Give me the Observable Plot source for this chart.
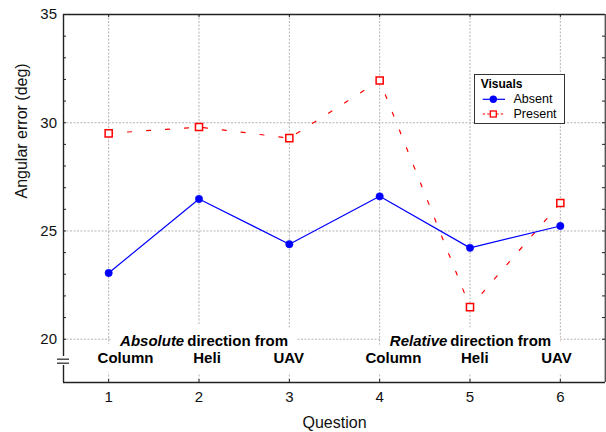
<!DOCTYPE html>
<html>
<head>
<meta charset="utf-8">
<script src="https://cdn.jsdelivr.net/npm/d3@7"></script>
<script src="https://cdn.jsdelivr.net/npm/@observablehq/plot@0.6"></script>
<style>
  body { margin: 0; background: #fff; font-family: "Liberation Sans", Arial, sans-serif; }
  #wrap { position: relative; width: 606px; height: 432px; }
  #legend { position: absolute; left: 474px; top: 74px; width: 91px; height: 50px; box-sizing: border-box;
            border: 1px solid #333; background: #fff; }
  #legend .t { position: absolute; white-space: nowrap; color: #000; }
  #legend svg { position: absolute; left: 0; top: 0; }
</style>
</head>
<body>
<div id="wrap"></div>
<script>
// ---- data ----
const questions = [1, 2, 3, 4, 5, 6];
const absent  = [23.06, 26.48, 24.39, 26.60, 24.22, 25.23];
const present = [29.51, 29.80, 29.29, 31.95, 21.48, 26.29];
const seriesNames = ["Absent", "Present"];
const legendTitle = "Visuals";
const xTicks = [1, 2, 3, 4, 5, 6];
const yTicks = [20, 25, 30, 35];
const yMinorTicks = d3.range(20, 36);
const xDomain = [0.5, 6.5];
const yDomain = [18, 35];
const groupLead = ["Absolute", "Relative"];
const groupRest = ["direction from", "direction from"];
const groupSplitX = [1.853, 4.766];
const sourceLabels = ["Column", "Heli", "UAV", "Column", "Heli", "UAV"];
const sourceLabelX = [1.186, 2.089, 2.994, 4.152, 5.053, 5.958];
const headerRowY = 19.894;
const sourceRowY = 19.109;
const breakMarksY = [19.077, 18.892];
const breakGapY = [18.785, 19.201];

// ---- tables built from arrays ----
const rows = questions.map((q, i) => ({q, absent: absent[i], present: present[i]}));
const headers = groupLead.map((lead, i) => ({lead, rest: groupRest[i], x: groupSplitX[i]}));
const sources = sourceLabels.map((label, i) => ({label, x: sourceLabelX[i]}));
const leftAxisSegments = [{y1: breakGapY[1], y2: yDomain[1]}, {y1: yDomain[0], y2: breakGapY[0]}];

const blue = "#0000ff", red = "#ff0000", ink = "#222";
const gridStyle = {stroke: "#b4b4b4", strokeWidth: 1, strokeDasharray: "2,1.5"};
const haloStyle = {fill: "white", stroke: "white", strokeWidth: 20, strokeLinejoin: "round", fontWeight: "bold", fontSize: 15, lineAnchor: "middle"};

const chart = Plot.plot({
  width: 606,
  height: 432,
  marginLeft: 63,
  marginRight: 1,
  marginTop: 14,
  marginBottom: 50,
  x: {domain: xDomain},
  y: {domain: yDomain},
  style: {fontFamily: '"Liberation Sans", Arial, sans-serif', fontSize: "15px", color: "#111", background: "white", overflow: "visible"},
  marks: [
    // grid
    Plot.ruleX(xTicks, {x: d => d, ...gridStyle}),
    Plot.ruleY(yTicks.filter(v => v < yDomain[1]), {y: d => d, ...gridStyle}),
    // label halos (white boxes behind text)
    Plot.text(headers, {x: "x", y: headerRowY, text: "lead", textAnchor: "end", dx: -1.5, fontStyle: "italic", ...haloStyle}),
    Plot.text(headers, {x: "x", y: headerRowY, text: "rest", textAnchor: "start", dx: 1.5, ...haloStyle}),
    Plot.text(sources, {x: "x", y: sourceRowY, text: "label", ...haloStyle}),
    // labels
    Plot.text(headers, {x: "x", y: headerRowY, text: "lead", textAnchor: "end", dx: -1.5, fontStyle: "italic", fontWeight: "bold", fontSize: 15, fill: "#000", lineAnchor: "middle"}),
    Plot.text(headers, {x: "x", y: headerRowY, text: "rest", textAnchor: "start", dx: 1.5, fontWeight: "bold", fontSize: 15, fill: "#000", lineAnchor: "middle"}),
    Plot.text(sources, {x: "x", y: sourceRowY, text: "label", fontWeight: "bold", fontSize: 15, fill: "#000", lineAnchor: "middle"}),
    // series
    Plot.line(rows, {x: "q", y: "present", stroke: red, strokeWidth: 1.2, strokeDasharray: "4,15"}),
    Plot.dot(rows, {x: "q", y: "present", symbol: "square", r: 4, stroke: red, strokeWidth: 1.5, fill: "white"}),
    Plot.line(rows, {x: "q", y: "absent", stroke: blue, strokeWidth: 1.2}),
    Plot.dot(rows, {x: "q", y: "absent", r: 3.7, fill: blue, stroke: blue, strokeWidth: 0.5}),
    // frame
    Plot.ruleY([yDomain[1]], {y: d => d, x1: xDomain[0], x2: xDomain[1], stroke: ink, strokeWidth: 1.4}),
    Plot.ruleY([yDomain[0]], {y: d => d, x1: xDomain[0], x2: xDomain[1], stroke: ink, strokeWidth: 1.4}),
    Plot.ruleX([xDomain[1]], {x: d => d, y1: yDomain[0], y2: yDomain[1], stroke: "#555", strokeWidth: 1.8}),
    Plot.ruleX(leftAxisSegments, {x: xDomain[0], y1: "y1", y2: "y2", stroke: ink, strokeWidth: 1.4}),
    // axis break marks
    Plot.ruleY(breakMarksY, {y: d => d, x1: xDomain[0], x2: xDomain[0], insetLeft: -6, insetRight: -6, stroke: ink, strokeWidth: 1.2}),
    // inward ticks
    Plot.ruleY(yMinorTicks, {y: d => d, x1: xDomain[0], x2: xDomain[0], insetRight: -3, stroke: ink}),
    Plot.ruleY(yMinorTicks.filter(v => v < yDomain[1]), {y: d => d, x1: xDomain[1], x2: xDomain[1], insetLeft: -3, stroke: ink}),
    Plot.ruleX(xTicks, {x: d => d, y1: yDomain[0], y2: yDomain[0], insetTop: -3, stroke: ink}),
    Plot.ruleX(xTicks, {x: d => d, y1: yDomain[1], y2: yDomain[1], insetBottom: -3, stroke: ink}),
    // axes
    Plot.axisY(yTicks, {tickSize: 0, tickPadding: 6.5, fontSize: 15, label: null, fill: "#111"}),
    Plot.axisX(xTicks, {tickSize: 0, tickPadding: 9, fontSize: 15, label: null, fill: "#111"}),
    Plot.text(["Question"], {frameAnchor: "bottom", dy: 40.7, fontSize: 16, lineAnchor: "middle", fill: "#111"}),
    Plot.text(["Angular error (deg)"], {frameAnchor: "left", dx: -42, rotate: -90, fontSize: 16, lineAnchor: "middle", fill: "#111"})
  ]
});

const wrap = document.getElementById("wrap");
wrap.appendChild(chart);

// legend
const legend = document.createElement("div");
legend.id = "legend";
legend.innerHTML = `
  <svg width="89" height="48">
    <line x1="7.7" x2="30" y1="24.3" y2="24.3" stroke="${blue}" stroke-width="1.2"/>
    <circle cx="18.3" cy="24.3" r="3.7" fill="${blue}"/>
    <line x1="7.7" x2="30" y1="39" y2="39" stroke="${red}" stroke-width="1.2" stroke-dasharray="2.5,2"/>
    <rect x="15.3" y="36" width="6" height="6" fill="white" stroke="${red}" stroke-width="1.3"/>
  </svg>
  <div class="t" style="left:5.7px;top:2px;font-weight:bold;font-size:12px;line-height:14px;">${legendTitle}</div>
  <div class="t" style="left:38.5px;top:17.3px;font-size:12.5px;line-height:14px;">${seriesNames[0]}</div>
  <div class="t" style="left:38.5px;top:32px;font-size:12.5px;line-height:14px;">${seriesNames[1]}</div>`;
wrap.appendChild(legend);
</script>
</body>
</html>
